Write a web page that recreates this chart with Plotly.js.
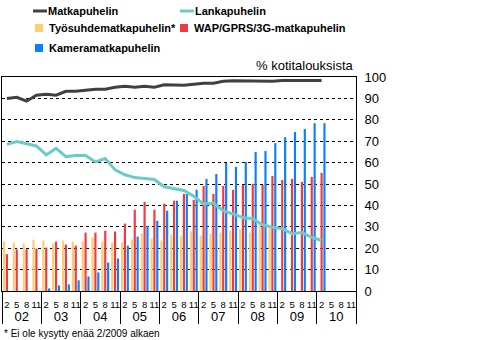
<!DOCTYPE html>
<html>
<head>
<meta charset="utf-8">
<script src="https://cdn.plot.ly/plotly-3.0.1.min.js"></script>
<style>html,body{margin:0;padding:0;background:#fff;}#chart{width:481px;height:340px;}</style>
</head>
<body>
<div id="chart"></div>
<script>
// Category labels
const years = ['02','03','04','05','06','07','08','09','10'];
const months = ['2','5','8','11'];

// Series values (% of households), one value per quarter 2/2002 ... 11/2010
const matkapuhelin = [89.9, 90.5, 88.7, 91.5, 91.9, 91.5, 93.3, 93.3, 93.8, 94.3, 94.3, 95.2,
  95.7, 95.2, 95.7, 95.2, 96.4, 96.1, 96.1, 96.6, 97.1, 97.1, 98.0, 98.3,
  98.3, 98.0, 98.3, 98.0, 98.4, 98.4, 98.4, 98.4, 98.4, null, null, null];
const lankapuhelin = [68.5, 69.8, 68.8, 67.8, 63.6, 66.7, 62.8, 63.3, 63.3, 60.3, 61.9, 56.6,
  54.3, 53.0, 52.6, 52.1, 48.7, 47.8, 47.0, 44.3, 40.7, 41.0, 37.5, 36.0,
  34.3, 33.8, 31.0, 29.8, 29.1, 26.8, 27.3, 25.1, 23.6, null, null, null];
const tyosuhde = [23.1, 22.6, 22.2, 24.0, 23.6, 22.2, 23.6, 23.1, 23.1, 25.0, 23.1, 22.6,
  22.6, 24.0, 26.8, 24.5, 23.6, 26.4, 25.9, 27.8, 25.9, 26.8, 27.3, 28.2,
  28.7, 27.3, 31.5, 30.1, null, null, null, null, null, null, null, null];
const wap = [17.2, 19.5, 19.5, 19.8, 20.3, 23.1, 21.7, 21.2, 27.3, 27.3, 28.2, 27.8,
  31.5, 38.0, 41.7, 38.0, 40.8, 42.2, 45.4, 42.6, 49.1, 45.4, 49.1, 47.3,
  49.6, 50.1, 49.6, 53.8, 51.9, 52.4, 51.0, 53.3, 55.2, null, null, null];
const kamera = [null, null, null, null, 1.2, 2.6, 3.1, 5.0, 6.8, 8.7, 13.3, 15.2,
  21.2, 25.4, 30.5, 32.8, 37.5, 42.2, 45.4, 47.3, 52.4, 54.7, 59.8, 58.0,
  60.3, 65.0, 65.4, 69.1, 71.9, 74.3, 75.7, 78.4, 78.4, null, null, null];

const seriesNames = ['Matkapuhelin', 'Lankapuhelin', 'Työsuhdematkapuhelin*', 'WAP/GPRS/3G-matkapuhelin', 'Kameramatkapuhelin'];
const footnote = '* Ei ole kysytty enää 2/2009 alkaen';
const unitLabel = '% kotitalouksista';

const outer = [], inner = [];
years.forEach(y => months.forEach(m => {
  outer.push(y);
  inner.push('<span style="font-size:9.5px">' + m + '</span>');
}));
const x = [outer, inner];

const FONT = 'Liberation Sans, Arial, sans-serif';
const COLORS = ['#404040', '#6ccbc8', '#ffcc6e', '#ee3b40', '#0a80ff'];

const traces = [
  {type:'scatter', mode:'lines', name:seriesNames[0], x:x, y:matkapuhelin, line:{color:COLORS[0], width:3}},
  {type:'scatter', mode:'lines', name:seriesNames[1], x:x, y:lankapuhelin, line:{color:COLORS[1], width:3}},
  {type:'bar', name:seriesNames[2], x:x, y:tyosuhde, marker:{color:COLORS[2]}},
  {type:'bar', name:seriesNames[3], x:x, y:wap, marker:{color:COLORS[3]}},
  {type:'bar', name:seriesNames[4], x:x, y:kamera, marker:{color:COLORS[4]}}
];

// pixel -> paper helpers (plot area: x 2..356, y 77..291)
const L = 2, W = 354, T = 77, H = 214;
const px = X => (X - L) / W;
const py = Y => (T + H - Y) / H;

// Legend drawn as swatches + labels
const legendItems = [
  {i:0, kind:'line', x:33, y:11},
  {i:1, kind:'line', x:180, y:11},
  {i:2, kind:'box', x:35, y:28},
  {i:3, kind:'box', x:180, y:28},
  {i:4, kind:'box', x:35, y:48}
];
const shapes = [], annotations = [];
legendItems.forEach(it => {
  if (it.kind === 'line') {
    shapes.push({type:'line', xref:'paper', yref:'paper', x0:px(it.x), x1:px(it.x + 14),
      y0:py(it.y), y1:py(it.y), line:{color:COLORS[it.i], width:3}});
  } else {
    shapes.push({type:'rect', xref:'paper', yref:'paper', x0:px(it.x), x1:px(it.x + 8),
      y0:py(it.y - 4), y1:py(it.y + 4), line:{width:0}, fillcolor:COLORS[it.i]});
  }
  annotations.push({text:seriesNames[it.i], xref:'paper', yref:'paper', x:px(it.x + 12 + (it.kind==='line'?1:0)),
    y:py(it.y), xanchor:'left', yanchor:'middle', showarrow:false,
    font:{family:FONT, size:11, weight:'bold', color:'#000'}});
});
annotations.push({text:unitLabel, xref:'paper', yref:'paper', x:1, y:1, xanchor:'right', yanchor:'bottom',
  yshift:2, showarrow:false, font:{family:FONT, size:13, color:'#000'}});
annotations.push({text:footnote, xref:'paper', yref:'paper', x:px(2), y:py(333), xanchor:'left', yanchor:'middle',
  showarrow:false, font:{family:FONT, size:10, color:'#000'}});

const layout = {
  width:481, height:340,
  margin:{l:L, r:481 - L - W, t:T, b:340 - T - H, pad:0},
  paper_bgcolor:'#ffffff', plot_bgcolor:'#ffffff',
  font:{family:FONT, color:'#000000'},
  barmode:'group', bargap:0.12, bargroupgap:0.25,
  showlegend:false, hovermode:false,
  xaxis:{type:'multicategory', showline:true, linecolor:'#000', linewidth:1, mirror:true,
    showgrid:false, zeroline:false, ticks:'', tickangle:0, tickmode:'linear', tick0:0, dtick:1,
    tickfont:{family:FONT, size:13, color:'#000'},
    showdividers:true, dividercolor:'#000', dividerwidth:1},
  yaxis:{side:'right', range:[0,100], dtick:10, tick0:0, showgrid:true, gridcolor:'#000',
    gridwidth:1, griddash:'3px,3px', showline:true, linecolor:'#000', linewidth:1, mirror:true,
    zeroline:false, ticks:'', ticklabelstandoff:5, tickfont:{family:FONT, size:13, color:'#000'}},
  shapes:shapes,
  annotations:annotations
};

Plotly.newPlot('chart', traces, layout, {staticPlot:true, displayModeBar:false});
</script>
</body>
</html>
